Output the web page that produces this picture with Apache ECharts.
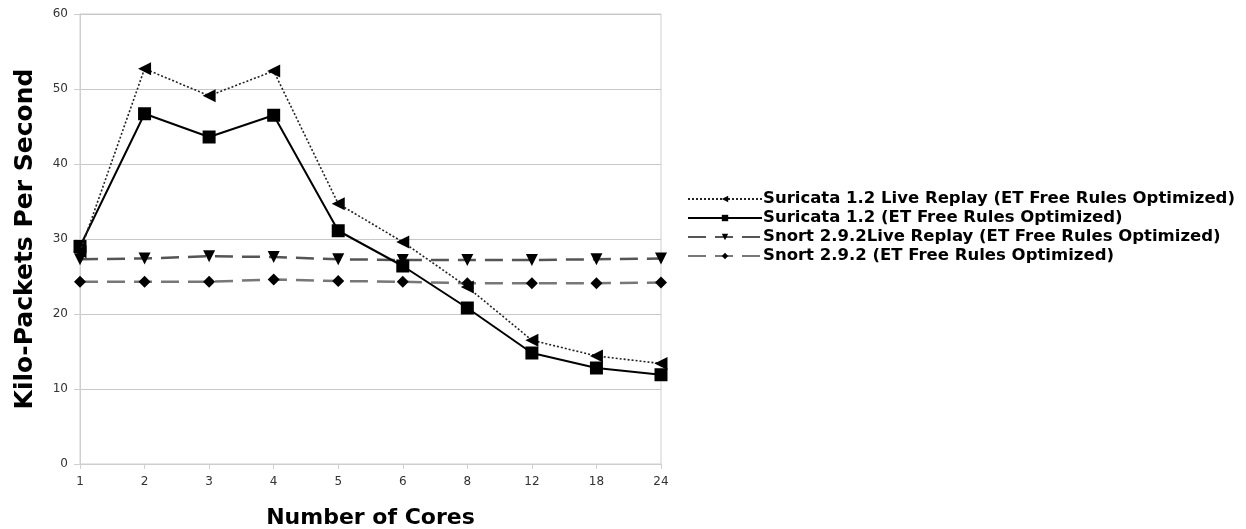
<!DOCTYPE html>
<html>
<head>
<meta charset="utf-8">
<script src="https://cdn.jsdelivr.net/npm/echarts@6/dist/echarts.min.js"></script>
<style>
  html, body { margin: 0; padding: 0; background: #fff; }
  #chart-one { width: 1246px; height: 529px; }
</style>
</head>
<body>
<div id="chart-one"></div>
<script>
// data
let cores = ['1', '2', '3', '4', '5', '6', '8', '12', '18', '24'];
let suricataLive = [28.3, 52.7, 49.1, 52.4, 34.7, 29.6, 23.6, 16.5, 14.4, 13.4];
let suricata = [29.0, 46.7, 43.6, 46.5, 31.1, 26.4, 20.8, 14.8, 12.8, 11.9];
let snortLive = [27.3, 27.4, 27.7, 27.6, 27.3, 27.2, 27.2, 27.2, 27.3, 27.4];
let snort = [24.3, 24.3, 24.3, 24.6, 24.4, 24.3, 24.1, 24.1, 24.1, 24.2];
let seriesNames = [
    'Suricata 1.2 Live Replay (ET Free Rules Optimized)',
    'Suricata 1.2 (ET Free Rules Optimized)',
    'Snort 2.9.2Live Replay (ET Free Rules Optimized)',
    'Snort 2.9.2 (ET Free Rules Optimized)'
];

eshipEchartOne();

function eshipEchartOne() {
    let myChart = echarts.init(document.getElementById('chart-one'));

    let option = {
        animation: false,
        textStyle: { fontFamily: 'DejaVu Sans' },
        grid: {
            left: 80, right: 585, top: 14, bottom: 65,
            outerBoundsMode: 'none',
            containLabel: false,
            show: true, borderColor: '#cfcfcf', borderWidth: 1
        },
        legend: {
            orient: 'vertical',
            left: 682, top: 185,
            itemWidth: 74, itemHeight: 8, itemGap: 1,
            textStyle: { fontSize: 16.5, fontWeight: 'bold', color: '#000', padding: [0, 0, 0, -4], lineHeight: 18 },
            data: seriesNames
        },
        xAxis: {
            type: 'category',
            data: cores,
            boundaryGap: false,
            name: 'Number of Cores',
            nameLocation: 'middle',
            nameGap: 43,
            nameTextStyle: { fontSize: 22, fontWeight: 'bold', color: '#000' },
            axisLine: { lineStyle: { color: '#cfcfcf' } },
            axisTick: { show: true, length: 5, lineStyle: { color: '#cfcfcf' } },
            axisLabel: { color: '#333', fontSize: 12, margin: 12 },
            splitLine: { show: false }
        },
        yAxis: {
            type: 'value',
            min: 0, max: 60, interval: 10,
            name: 'Kilo-Packets Per Second',
            nameLocation: 'middle',
            nameGap: 42,
            nameTextStyle: { fontSize: 25, fontWeight: 'bold', color: '#000' },
            axisLine: { show: true, lineStyle: { color: '#cfcfcf' } },
            axisTick: { show: true, length: 6, lineStyle: { color: '#cfcfcf' } },
            axisLabel: { color: '#333', fontSize: 12, margin: 12 },
            splitLine: { lineStyle: { color: '#c8c8c8' } }
        },
        series: [
            {
                name: seriesNames[0],
                type: 'line',
                data: suricataLive,
                symbol: 'triangle', symbolRotate: 90, symbolSize: 13,
                itemStyle: { color: '#000' },
                lineStyle: { color: '#222', width: 1.6, type: [2, 2] },
                z: 4
            },
            {
                name: seriesNames[1],
                type: 'line',
                data: suricata,
                symbol: 'rect', symbolSize: 13,
                itemStyle: { color: '#000' },
                lineStyle: { color: '#000', width: 2 },
                z: 3
            },
            {
                name: seriesNames[2],
                type: 'line',
                data: snortLive,
                symbol: 'triangle', symbolRotate: 180, symbolSize: 12,
                itemStyle: { color: '#000' },
                lineStyle: { color: '#555', width: 2.5, type: [18, 9] },
                z: 2
            },
            {
                name: seriesNames[3],
                type: 'line',
                data: snort,
                symbol: 'diamond', symbolSize: 12,
                itemStyle: { color: '#000' },
                lineStyle: { color: '#777', width: 2.5, type: [18, 9] },
                z: 2
            }
        ]
    };

    myChart.setOption(option);
}
</script>
</body>
</html>
